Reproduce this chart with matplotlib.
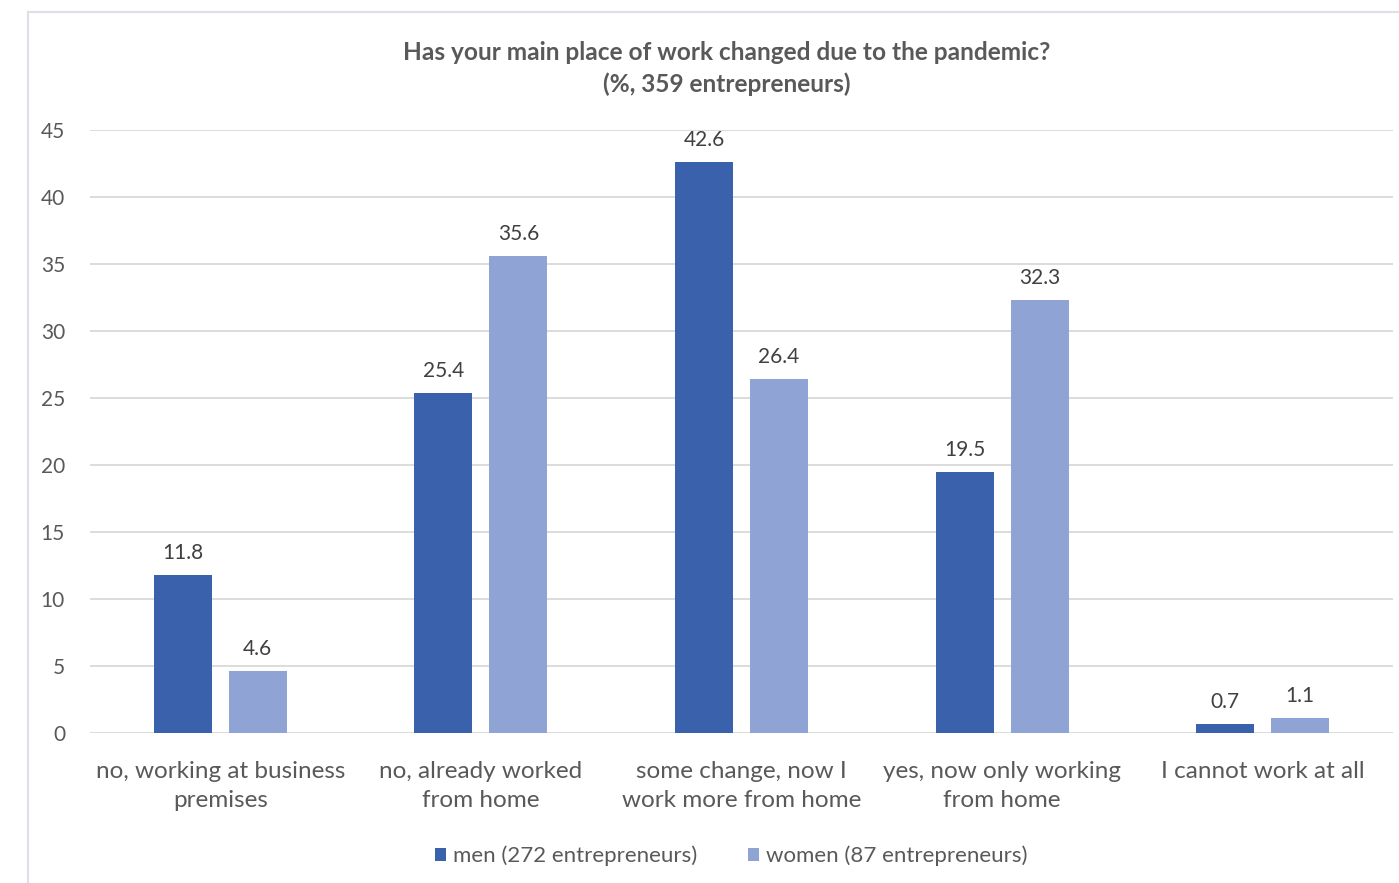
import matplotlib.pyplot as plt
import numpy as np

categories = ['no, working at business\npremises', 'no, already worked\nfrom home',
              'some change, now I\nwork more from home', 'yes, now only working\nfrom home',
              'I cannot work at all']
men = [11.8, 25.4, 42.6, 19.5, 0.7]
women = [4.6, 35.6, 26.4, 32.3, 1.1]
series_names = ['men (272 entrepreneurs)', 'women (87 entrepreneurs)']
yticks = [0, 5, 10, 15, 20, 25, 30, 35, 40, 45]

text_col = '#595959'
plt.rcParams['font.family'] = ['Lato', 'DejaVu Sans']

fig = plt.figure(figsize=(13.99, 8.83), dpi=100)
ax = fig.add_axes([90/1399, 1 - 733/883, 1303/1399, 603/883])

x = np.arange(len(categories))
w = 0.223
off = 0.144
b1 = ax.bar(x - off, men, w, color='#3A62AC', label=series_names[0])
b2 = ax.bar(x + off, women, w, color='#8FA3D5', label=series_names[1])

for bars, vals in ((b1, men), (b2, women)):
    for bar, v in zip(bars, vals):
        ax.text(bar.get_x() + bar.get_width() / 2, v + 0.9, f'{v:.1f}',
                ha='center', va='bottom', fontsize=15, color='#404040')

ax.set_xlim(-0.5, len(categories) - 0.5)
ax.set_ylim(0, 45)
ax.set_yticks(yticks)
ax.yaxis.grid(True, color='#D9D9D9', linewidth=1.3)
ax.set_axisbelow(True)
for s in ax.spines.values():
    s.set_visible(False)
ax.tick_params(axis='both', length=0, colors=text_col, labelsize=15)
ax.tick_params(axis='y', pad=18)
ax.set_xticks(x)
ax.set_xticklabels(categories, fontsize=17.5, color=text_col, linespacing=1.5)
ax.tick_params(axis='x', pad=20)

fig.text(727/1399, 1 - 52/883, 'Has your main place of work changed due to the pandemic?',
         ha='center', va='center', fontsize=17.6, fontweight='bold', color=text_col)
fig.text(727/1399, 1 - 84/883, '(%, 359 entrepreneurs)',
         ha='center', va='center', fontsize=17.6, fontweight='bold', color=text_col)

fig.legend(handles=[b1, b2], labels=series_names, loc='center',
           bbox_to_anchor=(731/1399, 1 - 856/883), ncol=2, frameon=False,
           fontsize=16, labelcolor=text_col, handlelength=0.5, handleheight=0.5,
           handletextpad=0.3, columnspacing=2.3)

# outer chart frame (left and top edges visible)
fig.add_artist(plt.Line2D([28/1399, 28/1399], [0, 1 - 12/883], color='#DCE1E8', linewidth=1.5))
fig.add_artist(plt.Line2D([28/1399, 1], [1 - 12/883, 1 - 12/883], color='#DCE1E8', linewidth=1.5))

fig.savefig('out.png', dpi=100)
